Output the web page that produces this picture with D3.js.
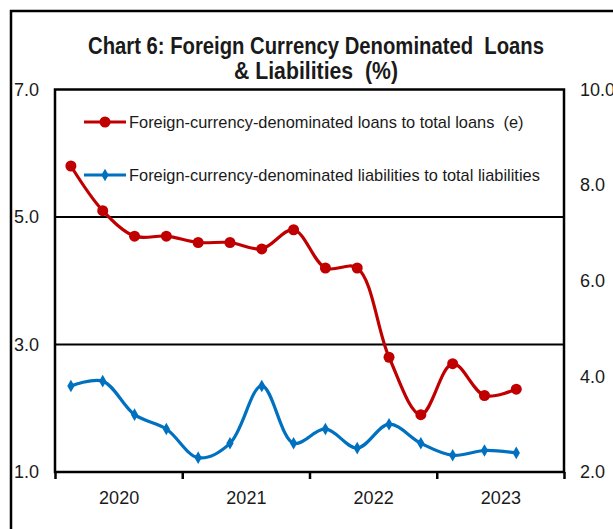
<!DOCTYPE html>
<html>
<head>
<meta charset="utf-8">
<script src="https://cdn.jsdelivr.net/npm/d3@7"></script>
<style>
  html, body { margin: 0; padding: 0; background: #fff; }
  svg { display: block; font-family: "Liberation Sans", Arial, sans-serif; }
</style>
</head>
<body>
<svg id="chart" width="613" height="529"></svg>
<script>
// Quarterly observations, 2020Q1 to 2023Q3
const quarters = ["2020Q1","2020Q2","2020Q3","2020Q4","2021Q1","2021Q2","2021Q3","2021Q4",
                  "2022Q1","2022Q2","2022Q3","2022Q4","2023Q1","2023Q2","2023Q3"];
const years = [2020, 2021, 2022, 2023];
// Foreign-currency-denominated loans to total loans (left axis, %)
const loansShare = [5.8, 5.1, 4.7, 4.7, 4.6, 4.6, 4.5, 4.8, 4.2, 4.2, 2.8, 1.9, 2.7, 2.2, 2.3];
// Foreign-currency-denominated liabilities to total liabilities (right axis, %)
const liabShare = [3.8, 3.9, 3.2, 2.9, 2.3, 2.6, 3.8, 2.6, 2.9, 2.5, 3.0, 2.6, 2.35, 2.45, 2.4];
const leftTicks = [1, 3, 5, 7];
const rightTicks = [2, 4, 6, 8, 10];
const gridValues = [3, 5];
const titleLines = ["Chart 6: Foreign Currency Denominated  Loans", "& Liabilities  (%)"];
const legendLabels = ["Foreign-currency-denominated loans to total loans  (e)",
                      "Foreign-currency-denominated liabilities to total liabilities"];

const RED = "#C00000", BLUE = "#0070C0", INK = "#1a1a1a";
const svg = d3.select("#chart");
const plot = { left: 55, right: 564, top: 89.5, bottom: 472 };

// quarter position within its year: centre of the quarter's slot
const qPos = q => +q.slice(0, 4) + (+q.slice(5) - 0.5) / 4;

const x = d3.scaleLinear().domain([2020, 2024]).range([plot.left, plot.right]);
const yL = d3.scaleLinear().domain([1, 7]).range([plot.bottom, plot.top]);
const yR = d3.scaleLinear().domain([2, 10]).range([plot.bottom, plot.top]);

// outer frame (runs off the right and bottom edges)
svg.append("rect").attr("x", 11).attr("y", 11).attr("width", 700).attr("height", 600)
  .attr("fill", "none").attr("stroke", "#000").attr("stroke-width", 2.5);

// title
svg.append("g").selectAll("text").data(titleLines).join("text")
  .attr("x", 316).attr("y", (d, i) => 54 + i * 25)
  .attr("text-anchor", "middle")
  .attr("font-size", 23).attr("font-weight", "bold").attr("fill", INK)
  .attr("textLength", (d, i) => i === 0 ? 456 : 164)
  .attr("lengthAdjust", "spacingAndGlyphs")
  .style("white-space", "pre")
  .text(d => d);

// horizontal gridlines
svg.append("g").selectAll("line").data(gridValues).join("line")
  .attr("x1", plot.left).attr("x2", plot.right)
  .attr("y1", d => yL(d)).attr("y2", d => yL(d))
  .attr("stroke", "#000").attr("stroke-width", 2);

// plot border
svg.append("rect")
  .attr("x", plot.left).attr("y", plot.top)
  .attr("width", plot.right - plot.left).attr("height", plot.bottom - plot.top)
  .attr("fill", "none").attr("stroke", "#000").attr("stroke-width", 2.5);

// left axis labels
const gL = svg.append("g").attr("transform", `translate(${plot.left},0)`)
  .call(d3.axisLeft(yL).tickValues(leftTicks).tickSize(0).tickPadding(16).tickFormat(d3.format(".1f")));
// right axis labels
const gR = svg.append("g").attr("transform", `translate(${plot.right},0)`)
  .call(d3.axisRight(yR).tickValues(rightTicks).tickSize(0).tickPadding(16).tickFormat(d3.format(".1f")));
// year boundary ticks
const gB = svg.append("g").attr("transform", `translate(0,${plot.bottom})`)
  .call(d3.axisBottom(x).tickValues(d3.range(2020, 2025)).tickSize(7).tickFormat(""));
// year labels centred in each year
const gY = svg.append("g").attr("transform", `translate(0,${plot.bottom})`)
  .call(d3.axisBottom(x).tickValues(years.map(y => y + 0.5)).tickSize(0).tickPadding(19)
    .tickFormat(d => String(Math.floor(d))));

[gL, gR, gB, gY].forEach(g => {
  g.select(".domain").remove();
  g.selectAll("text").attr("font-size", 18).attr("fill", INK)
    .attr("font-family", "'Liberation Sans', Arial, sans-serif");
});
gB.selectAll("line").attr("stroke", "#000").attr("stroke-width", 2.5);

// series lines
const line = (yScale) => d3.line()
  .x(d => x(qPos(d.q))).y(d => yScale(d.v))
  .curve(d3.curveCatmullRom.alpha(0.5));

const loans = quarters.map((q, i) => ({ q, v: loansShare[i] }));
const liabs = quarters.map((q, i) => ({ q, v: liabShare[i] }));

svg.append("path").datum(liabs).attr("d", line(yR))
  .attr("fill", "none").attr("stroke", BLUE).attr("stroke-width", 3.2);
svg.append("g").selectAll("path").data(liabs).join("path")
  .attr("d", d3.symbol(d3.symbolDiamond, 46))
  .attr("transform", d => `translate(${x(qPos(d.q))},${yR(d.v)})`)
  .attr("fill", BLUE);

svg.append("path").datum(loans).attr("d", line(yL))
  .attr("fill", "none").attr("stroke", RED).attr("stroke-width", 3.2);
svg.append("g").selectAll("circle").data(loans).join("circle")
  .attr("cx", d => x(qPos(d.q))).attr("cy", d => yL(d.v)).attr("r", 5.5)
  .attr("fill", RED);

// legend
const legend = svg.append("g");
const legendRows = [
  { y: 122, color: RED, label: legendLabels[0], marker: "circle" },
  { y: 175, color: BLUE, label: legendLabels[1], marker: "diamond" }
];
legendRows.forEach(r => {
  legend.append("line").attr("x1", 84).attr("x2", 126).attr("y1", r.y).attr("y2", r.y)
    .attr("stroke", r.color).attr("stroke-width", 3.2);
  if (r.marker === "circle") {
    legend.append("circle").attr("cx", 105).attr("cy", r.y).attr("r", 5.5).attr("fill", r.color);
  } else {
    legend.append("path").attr("d", d3.symbol(d3.symbolDiamond, 46))
      .attr("transform", `translate(105,${r.y})`).attr("fill", r.color);
  }
  legend.append("text").attr("x", 129).attr("y", r.y).attr("dy", "0.35em")
    .attr("font-size", 16.4).attr("fill", INK).style("white-space", "pre")
    .text(r.label);
});
</script>
</body>
</html>
